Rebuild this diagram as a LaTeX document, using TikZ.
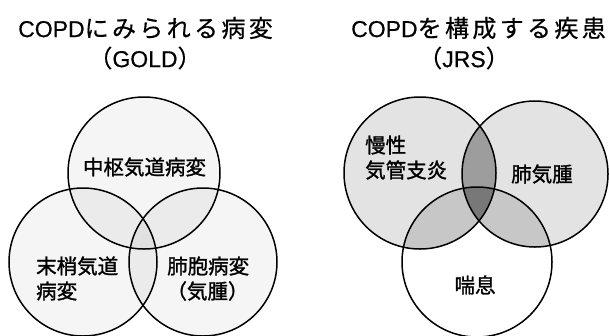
\documentclass[tikz,border=0pt]{standalone}
\usepackage{fontspec}
\newfontfamily\jp[FakeBold=0.5]{Noto Sans CJK JP}
\newfontfamily\jpb[FakeBold=1.3]{Noto Sans CJK JP}
\newfontfamily\jpls[LetterSpace=14,FakeBold=0.5]{Noto Sans CJK JP}
\newfontfamily\lat[FakeBold=0.5]{Liberation Sans}
\tikzset{
  ring/.style={circle, draw=black, line width=1.5pt, inner sep=0pt},
  lbl/.style={font=\jpb\fontsize{20.5}{24}\selectfont, inner sep=0pt},
  ttl/.style={font=\jp\fontsize{24}{28}\selectfont, inner sep=0pt},
}
\newcommand{\latin}[1]{{\lat\fontsize{23}{28}\selectfont #1}}
\begin{document}
\begin{tikzpicture}[x=1pt,y=-1pt]
\fill[white] (0,0) rectangle (609,335);
\useasboundingbox (0,0) rectangle (609,335);

% ---- shading, left diagram
\fill[black, fill opacity=0.04] (144,173) circle[radius=76pt];
\fill[black, fill opacity=0.04] (83,262) circle[radius=74pt];
\fill[black, fill opacity=0.04] (203,262) circle[radius=74pt];

% ---- shading, right diagram
\fill[black, fill opacity=0.11] (420,173) circle[radius=76pt];
\fill[black, fill opacity=0.11] (535,174) circle[radius=73pt];
\begin{scope}
  \clip (420,173) circle[radius=76pt];
  \fill[black, fill opacity=0.22] (535,174) circle[radius=73pt];
\end{scope}
\begin{scope}
  \clip (477,262) circle[radius=75pt];
  \fill[black, fill opacity=0.12] (420,173) circle[radius=76pt];
  \fill[black, fill opacity=0.12] (535,174) circle[radius=73pt];
\end{scope}

% ---- circles, left
\node[ring, minimum size=152pt] (A) at (144,173) {};
\node[ring, minimum size=148pt] (B) at (83,262) {};
\node[ring, minimum size=148pt] (C) at (203,262) {};
% ---- circles, right
\node[ring, minimum size=152pt] (D) at (420,173) {};
\node[ring, minimum size=146pt] (E) at (535,174) {};
\node[ring, minimum size=150pt] (F) at (477,262) {};

% ---- titles
\node[ttl, anchor=west] (t1) at (18,28) {\latin{COPD}{\jpls にみられる病変}};
\node[ttl] (t1b) at (145,58) {（\latin{GOLD}）};
\node[ttl, anchor=east] (t2) at (606,28) {\latin{COPD}{\jpls を構成する疾患}};
\node[ttl] (t2b) at (464,58) {（\latin{JRS}）};

% ---- labels, left
\node[lbl] (la) at (144.5,167) {中枢気道病変};
\node[lbl, anchor=west] (lb1) at (36,266) {末梢気道};
\node[lbl, anchor=west] (lb2) at (36,291) {病変};
\node[lbl, anchor=west] (lc1) at (167,266) {肺胞病変};
\node[lbl] (lc2) at (207.5,291) {（気腫）};

% ---- labels, right
\node[lbl, anchor=west] (ld1) at (365,145) {慢性};
\node[lbl, anchor=west] (ld2) at (365,170) {気管支炎};
\node[lbl] (le) at (542,174) {肺気腫};
\node[lbl] (lf) at (475,285) {喘息};
\end{tikzpicture}
\end{document}
